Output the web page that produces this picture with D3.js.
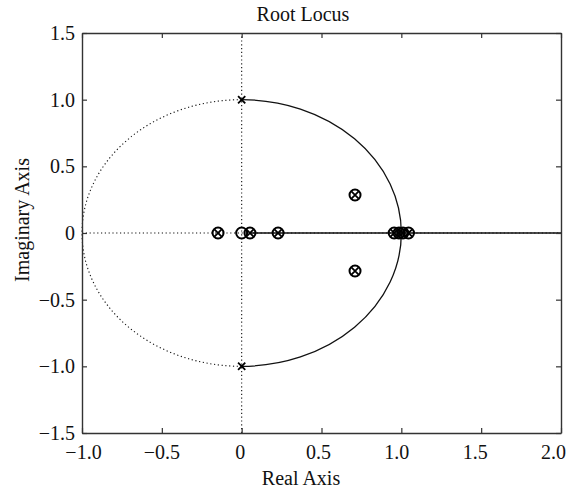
<!DOCTYPE html>
<html>
<head>
<meta charset="utf-8">
<script src="https://cdn.jsdelivr.net/npm/d3@7"></script>
<style>
  body { margin: 0; background: #fff; }
  text { font-family: "Liberation Serif", "Times New Roman", serif; fill: #111; }
</style>
</head>
<body>
<div id="chart"></div>
<script>
// axis ticks
const xTicks = [-1, -0.5, 0, 0.5, 1, 1.5, 2];
const xTickLabels = ["\u22121.0", "\u22120.5", "0", "0.5", "1.0", "1.5", "2.0"];
const yTicks = [1.5, 1, 0.5, 0, -0.5, -1, -1.5];
const yTickLabels = ["1.5", "1.0", "0.5", "0", "\u22120.5", "\u22121.0", "\u22121.5"];

// open-loop poles (x) and zeros (o)
const poles = [[0, 1], [0, -1], [-0.148, 0], [0.052, 0], [0.228, 0], [0.71, 0.285], [0.71, -0.285],
               [0.955, 0], [0.985, 0], [1.01, 0], [1.045, 0]];
const zeros = [[0, 0], [-0.148, 0], [0.052, 0], [0.228, 0], [0.71, 0.285], [0.71, -0.285],
               [0.955, 0], [0.985, 0], [1.01, 0], [1.045, 0]];

// locus branch on the real axis
const realBranch = [[0.052, 0], [2, 0]];

const W = 577, H = 490;
const m = {left: 82, top: 33, right: 16, bottom: 57};

let svg = d3.select("#chart").append("svg")
    .attr("width", W)
    .attr("height", H);

let x = d3.scaleLinear().domain([-1, 2]).range([m.left, W - m.right]);
let y = d3.scaleLinear().domain([-1.5, 1.5]).range([H - m.bottom, m.top]);
// the printed tick labels sit a little left of their ticks toward the right end
let xLab = d3.scaleLinear().domain([-1, 2]).range([m.left + 1, W - m.right - 8]);

// dotted reference lines through the origin
let dots = "1.2,2.6";
svg.append("line")
    .attr("x1", x(-1)).attr("x2", x(2))
    .attr("y1", y(0)).attr("y2", y(0))
    .attr("stroke", "#111").attr("stroke-width", 1.1).attr("stroke-dasharray", dots);
svg.append("line")
    .attr("x1", x(0)).attr("x2", x(0))
    .attr("y1", y(-1.5)).attr("y2", y(1.5))
    .attr("stroke", "#111").attr("stroke-width", 1.1).attr("stroke-dasharray", dots);

// unit circle: left half dotted, right half solid
let rx = x(1) - x(0), ry = y(0) - y(1);
svg.append("path")
    .attr("d", `M${x(0)},${y(1)} A${rx},${ry} 0 0 0 ${x(0)},${y(-1)}`)
    .attr("fill", "none").attr("stroke", "#111").attr("stroke-width", 1.1).attr("stroke-dasharray", dots);
svg.append("path")
    .attr("d", `M${x(0)},${y(1)} A${rx},${ry} 0 0 1 ${x(0)},${y(-1)}`)
    .attr("fill", "none").attr("stroke", "#111").attr("stroke-width", 1.3);

svg.append("path")
    .datum(realBranch)
    .attr("d", d3.line().x(d => x(d[0])).y(d => y(d[1])))
    .attr("fill", "none").attr("stroke", "#111").attr("stroke-width", 1.3);

// box and ticks
let ax = svg.append("g").attr("class", "axes");
let gB = ax.append("g").attr("transform", `translate(0,${y(-1.5)})`)
    .call(d3.axisBottom(x).tickValues(xTicks).tickSizeInner(-5).tickSizeOuter(0).tickFormat((d, i) => xTickLabels[i]));
ax.append("g").attr("transform", `translate(0,${y(1.5)})`)
    .call(d3.axisTop(x).tickValues(xTicks).tickSizeInner(-5).tickSizeOuter(0).tickFormat(""));
let gL = ax.append("g").attr("transform", `translate(${x(-1)},0)`)
    .call(d3.axisLeft(y).tickValues(yTicks).tickSizeInner(-5).tickSizeOuter(0).tickFormat((d, i) => yTickLabels[i]));
ax.append("g").attr("transform", `translate(${x(2)},0)`)
    .call(d3.axisRight(y).tickValues(yTicks).tickSizeInner(-5).tickSizeOuter(0).tickFormat(""));
ax.selectAll(".domain").attr("stroke", "#333").attr("stroke-width", 1.4);
ax.selectAll(".tick line").attr("stroke", "#333").attr("stroke-width", 1.2);
ax.selectAll("text").attr("font-size", 20).attr("font-family", "Liberation Serif").attr("fill", "#111");
gB.selectAll(".tick text").attr("y", 12).attr("dy", "0.71em").attr("x", d => xLab(d) - x(d));
gL.selectAll(".tick text").attr("x", -7);

// markers
let mk = svg.append("g");
mk.selectAll("circle.zero").data(zeros).join("circle")
    .attr("cx", d => x(d[0])).attr("cy", d => y(d[1])).attr("r", 5.5)
    .attr("fill", "none").attr("stroke", "#000").attr("stroke-width", 2);
let s = 3.6;
mk.selectAll("path.pole").data(poles).join("path")
    .attr("d", d => `M${x(d[0]) - s},${y(d[1]) - s}L${x(d[0]) + s},${y(d[1]) + s}M${x(d[0]) - s},${y(d[1]) + s}L${x(d[0]) + s},${y(d[1]) - s}`)
    .attr("stroke", "#000").attr("stroke-width", 1.8).attr("fill", "none");

// labels
svg.append("text").attr("x", 303).attr("y", 21).attr("text-anchor", "middle").attr("font-size", 20).text("Root Locus");
svg.append("text").attr("x", 301).attr("y", 485).attr("text-anchor", "middle").attr("font-size", 20).text("Real Axis");
svg.append("text").attr("transform", "translate(29,220) rotate(-90)").attr("text-anchor", "middle").attr("font-size", 20).text("Imaginary Axis");
</script>
</body>
</html>
